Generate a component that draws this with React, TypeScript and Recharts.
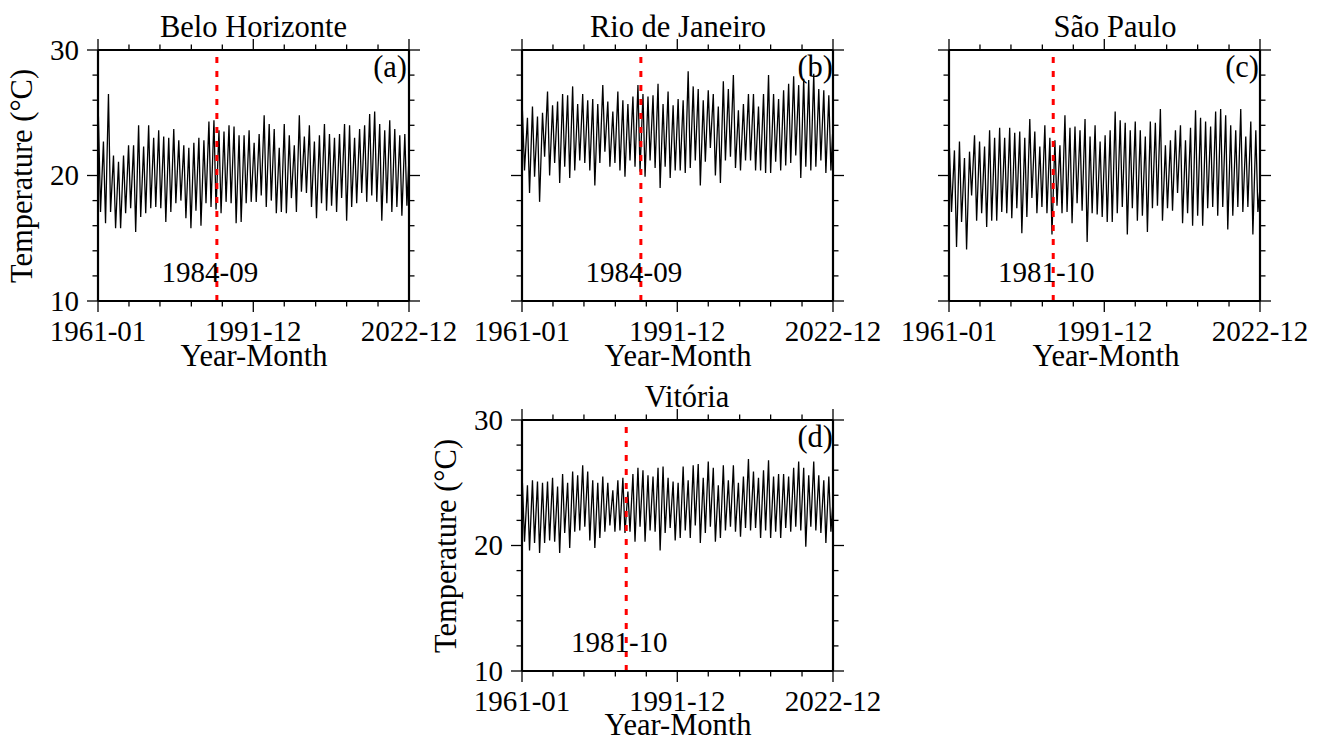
import { LineChart, Line, XAxis, YAxis, ReferenceLine } from 'recharts';

const FONT = '"Liberation Serif", "Times New Roman", serif';
const FS = 29;
const FS_TITLE = 30.5;

// month index: 0 = 1961-01 ... 743 = 2022-12
const xMajorTicks = [0, 371, 743];
const xMajorLabels = ['1961-01', '1991-12', '2022-12'];
const xMinorTicks = [74, 148, 223, 297, 445, 520, 594, 669];
const yMajorTicks = [10, 20, 30];
const yMinorTicks = [12, 14, 16, 18, 22, 24, 26, 28];

// one summer peak (Feb) and one winter low (Jul) per year, 1961..2022
const PEAK_MONTH = 1;
const LOW_MONTH = 6;

const bhStartEnd = [21.0, 21.5];
const bhPeaks = [
  24.7, 22.7, 26.5, 21.6, 21.1, 21.6, 22.4, 22.4, 24.0, 22.3, 24.0, 23.0, 23.6, 23.1, 23.0, 23.7,
  22.8, 22.4, 22.2, 22.6, 23.0, 22.8, 24.3, 24.4, 23.6, 23.5, 24.0, 23.9, 23.2, 23.2, 23.6, 22.6,
  23.3, 24.8, 24.1, 23.7, 22.2, 24.1, 23.2, 22.4, 24.8, 23.1, 24.0, 22.7, 23.2, 24.1, 23.3, 23.0,
  23.3, 24.1, 24.0, 23.0, 23.7, 24.0, 24.9, 25.1, 24.1, 23.6, 24.4, 23.7, 23.2, 23.3,
];
const bhLows = [
  17.1, 16.2, 17.1, 15.8, 15.8, 17.0, 17.4, 15.5, 16.7, 17.0, 17.4, 17.5, 17.4, 16.3, 17.1, 17.8,
  18.0, 16.6, 15.8, 17.2, 16.0, 17.8, 17.5, 17.3, 17.0, 17.9, 17.8, 16.2, 16.3, 17.8, 17.9,
  17.9, 18.4, 17.5, 18.0, 17.0, 17.1, 17.0, 18.2, 17.1, 18.7, 18.6, 17.5, 16.6, 17.8, 17.2, 17.6,
  17.1, 18.2, 16.4, 17.5, 17.8, 18.6, 17.9, 18.4, 17.9, 16.4, 17.8, 17.1, 17.5, 16.8, 17.6,
];

const rjStartEnd = [23.0, 24.0];
const rjPeaks = [
  25.2, 24.6, 25.5, 24.7, 25.0, 26.7, 25.6, 25.9, 26.5, 26.4, 27.1, 25.7, 26.5, 26.0, 26.1, 25.7,
  27.2, 25.9, 25.1, 26.7, 26.0, 25.7, 26.3, 27.2, 26.5, 26.3, 26.4, 27.3, 25.7, 26.7, 25.6, 26.1,
  26.0, 28.3, 27.1, 26.9, 26.0, 26.8, 26.5, 25.5, 27.5, 26.9, 28.0, 25.2, 25.7, 26.5, 26.5, 25.5,
  26.5, 28.0, 26.5, 26.1, 26.8, 27.3, 27.9, 27.2, 27.7, 27.6, 28.1, 26.9, 26.8, 26.4,
];
const rjLows = [
  20.4, 18.6, 19.9, 17.9, 21.5, 20.0, 21.0, 19.4, 20.7, 19.8, 20.4, 21.2, 21.0, 20.4, 19.2, 21.0,
  21.9, 20.7, 21.0, 20.4, 19.9, 21.2, 20.7, 20.3, 19.9, 21.2, 20.6, 19.0, 20.7, 19.8, 20.4,
  20.4, 20.2, 20.6, 21.2, 19.2, 21.1, 22.2, 20.0, 19.4, 21.2, 21.5, 20.6, 20.4, 21.2, 21.2, 20.4,
  20.4, 20.2, 20.2, 21.1, 20.4, 20.8, 21.0, 21.6, 19.8, 20.7, 20.4, 20.7, 21.2, 20.2, 20.4,
];

const spStartEnd = [21.0, 19.0];
const spPeaks = [
  22.2, 22.0, 22.7, 21.4, 21.9, 23.2, 22.7, 22.3, 23.6, 23.0, 23.8, 23.0, 23.8, 23.4, 23.5, 23.0,
  24.5, 23.5, 22.3, 24.0, 23.0, 22.8, 22.4, 24.8, 23.8, 23.9, 23.6, 24.5, 23.1, 24.0, 22.7, 23.2,
  23.6, 25.1, 24.4, 24.2, 23.6, 24.3, 23.6, 23.1, 24.3, 24.2, 25.3, 22.4, 22.8, 23.6, 24.0, 22.8,
  23.8, 25.2, 24.6, 24.3, 23.9, 25.1, 25.3, 24.8, 24.0, 23.6, 25.3, 23.1, 24.3, 23.6,
];
const spLows = [
  17.1, 14.3, 16.3, 14.1, 18.4, 16.4, 17.0, 15.9, 16.4, 16.4, 17.1, 17.0, 16.6, 17.4, 15.4, 16.7,
  18.2, 17.0, 17.5, 17.0, 15.3, 17.6, 17.0, 17.1, 16.2, 17.8, 17.2, 14.7, 17.0, 16.9, 16.7,
  16.3, 16.3, 17.0, 17.5, 15.3, 17.4, 16.4, 16.8, 15.5, 17.4, 17.6, 16.4, 17.4, 17.2, 18.6, 16.2,
  17.0, 16.0, 16.8, 16.0, 17.4, 17.5, 16.8, 17.5, 15.7, 16.8, 17.5, 17.1, 17.5, 15.3, 17.1,
];

const vtStartEnd = [22.5, 23.5];
const vtPeaks = [
  25.0, 24.8, 25.2, 25.1, 25.0, 25.1, 25.4, 24.7, 25.7, 25.0, 25.9, 25.6, 26.4, 25.9, 25.2, 25.0,
  25.5, 25.0, 24.4, 25.2, 25.4, 24.3, 25.7, 26.2, 26.0, 25.6, 25.5, 26.2, 26.3, 25.4, 25.1, 25.0,
  26.3, 25.2, 26.4, 26.5, 25.4, 26.7, 26.2, 24.8, 26.4, 25.2, 26.4, 25.0, 25.5, 26.9, 25.9, 25.4,
  26.0, 26.8, 25.5, 25.7, 25.7, 25.5, 26.2, 26.7, 26.2, 25.6, 26.7, 25.6, 25.2, 25.5,
];
const vtLows = [
  20.3, 19.6, 20.2, 19.4, 20.2, 20.4, 20.3, 19.4, 21.0, 19.8, 21.1, 21.2, 21.5, 20.4, 19.8, 20.6,
  21.1, 21.6, 21.1, 21.2, 21.0, 21.1, 20.3, 21.5, 20.3, 21.2, 21.1, 19.6, 21.0, 21.4, 20.4,
  20.6, 21.2, 20.6, 21.6, 20.2, 21.0, 21.5, 20.3, 20.6, 21.2, 21.5, 21.1, 20.7, 21.4, 21.2, 21.4,
  20.6, 21.2, 20.6, 21.1, 20.6, 21.4, 21.1, 21.5, 21.2, 19.9, 21.5, 21.2, 21.0, 20.2, 21.1,
];

function buildSeries(startEnd: number[], peaks: number[], lows: number[]) {
  const pts = [{ m: 0, t: startEnd[0] }];
  peaks.forEach((p, i) => {
    pts.push({ m: i * 12 + PEAK_MONTH, t: p });
    pts.push({ m: i * 12 + LOW_MONTH, t: lows[i] });
  });
  pts.push({ m: 743, t: startEnd[1] });
  return pts;
}

const PLOT_W = 311;
const PLOT_H = 251;
const CHART_W = 460;
const CHART_H = 369;

const panels = [
  { key: 'a', left: 0, top: 0, data: buildSeries(bhStartEnd, bhPeaks, bhLows), bp: 284, bpLabel: '1984-09', showY: true },
  { key: 'b', left: 424, top: 0, data: buildSeries(rjStartEnd, rjPeaks, rjLows), bp: 284, bpLabel: '1984-09', showY: false },
  { key: 'c', left: 851, top: 0, data: buildSeries(spStartEnd, spPeaks, spLows), bp: 249, bpLabel: '1981-10', showY: false },
  { key: 'd', left: 424, top: 370, data: buildSeries(vtStartEnd, vtPeaks, vtLows), bp: 249, bpLabel: '1981-10', showY: true },
];

function XTick({ x, y, payload }: any) {
  const idx = xMajorTicks.indexOf(payload.value);
  const len = idx >= 0 ? 11 : 5.5;
  return (
    <g>
      <line x1={x} x2={x} y1={y} y2={y + len} stroke="#000" strokeWidth={1.3} />
      <line x1={x} x2={x} y1={y - PLOT_H} y2={y - PLOT_H - len} stroke="#000" strokeWidth={1.3} />
      {idx >= 0 && (
        <text x={x} y={y + 40} textAnchor="middle" fontFamily={FONT} fontSize={FS} fill="#000">
          {xMajorLabels[idx]}
        </text>
      )}
    </g>
  );
}

function YTick({ x, y, payload, showLabel }: any) {
  const major = yMajorTicks.includes(payload.value);
  const len = major ? 11 : 5.5;
  return (
    <g>
      <line x1={x} x2={x - len} y1={y} y2={y} stroke="#000" strokeWidth={1.3} />
      <line x1={x + PLOT_W} x2={x + PLOT_W + len} y1={y} y2={y} stroke="#000" strokeWidth={1.3} />
      {major && showLabel && (
        <text x={x - 19} y={y} dy="0.34em" textAnchor="end" fontFamily={FONT} fontSize={FS} fill="#000">
          {payload.value}
        </text>
      )}
    </g>
  );
}

const titles = [
  { text: 'Belo Horizonte', x: 253.5, y: 37 },
  { text: 'Rio de Janeiro', x: 678, y: 37 },
  { text: 'São Paulo', x: 1115, y: 37 },
  { text: 'Vitória', x: 687, y: 407 },
];
const letters = [
  { text: '(a)', x: 407, y: 77 },
  { text: '(b)', x: 833, y: 77 },
  { text: '(c)', x: 1259, y: 77 },
  { text: '(d)', x: 833, y: 447 },
];
const xTitles = [
  { x: 254, y: 366 },
  { x: 678, y: 366 },
  { x: 1106, y: 366 },
  { x: 678, y: 735 },
];
const yTitles = [
  { x: 32, y: 176 },
  { x: 456, y: 546 },
];

function Panel({ p }: { p: (typeof panels)[number] }) {
  return (
    <div style={{ position: 'absolute', left: p.left, top: p.top }}>
      <LineChart width={CHART_W} height={CHART_H} data={p.data} margin={{ top: 50, right: 51, bottom: 18, left: 38 }}>
        <XAxis
          type="number"
          dataKey="m"
          domain={[0, 743]}
          ticks={[...xMajorTicks, ...xMinorTicks].sort((a, b) => a - b)}
          interval={0}
          tickLine={false}
          tickSize={0}
          tickMargin={0}
          height={50}
          axisLine={{ stroke: '#000', strokeWidth: 2.2 }}
          tick={<XTick />}
        />
        <YAxis
          type="number"
          domain={[10, 30]}
          allowDataOverflow
          ticks={[...yMajorTicks, ...yMinorTicks].sort((a, b) => a - b)}
          interval={0}
          tickLine={false}
          tickSize={0}
          tickMargin={0}
          width={60}
          axisLine={{ stroke: '#000', strokeWidth: 2.2 }}
          tick={(tp: any) => <YTick {...tp} showLabel={p.showY} />}
        />
        <ReferenceLine y={30} stroke="#000" strokeWidth={2.2} />
        <ReferenceLine x={743} stroke="#000" strokeWidth={2.2} />
        <Line
          type="linear"
          dataKey="t"
          stroke="#000"
          strokeWidth={1.3}
          dot={false}
          isAnimationActive={false}
        />
        <ReferenceLine
          x={p.bp}
          stroke="#ff0000"
          strokeWidth={3}
          strokeDasharray="6 8"
          label={{ value: p.bpLabel, position: 'insideBottom', offset: 19, fill: '#000', fontSize: FS, fontFamily: FONT, dx: -7 }}
        />
      </LineChart>
    </div>
  );
}

export default function App() {
  return (
    <div style={{ position: 'absolute', left: 0, top: 0, width: 1325, height: 739, background: '#fff', overflow: 'hidden' }}>
      {panels.map(p => (
        <Panel key={p.key} p={p} />
      ))}
      <svg width={1325} height={739} style={{ position: 'absolute', left: 0, top: 0, pointerEvents: 'none' }}>
        <g fontFamily={FONT} fontSize={FS_TITLE} fill="#000">
          {titles.map(t => (
            <text key={t.text} x={t.x} y={t.y} textAnchor="middle">{t.text}</text>
          ))}
          {letters.map(t => (
            <text key={t.text} x={t.x} y={t.y} textAnchor="end">{t.text}</text>
          ))}
          {xTitles.map((t, i) => (
            <text key={i} x={t.x} y={t.y} textAnchor="middle">Year-Month</text>
          ))}
          {yTitles.map((t, i) => (
            <text key={i} x={t.x} y={t.y} textAnchor="middle" transform={`rotate(-90 ${t.x} ${t.y})`}>
              Temperature (°C)
            </text>
          ))}
        </g>
      </svg>
    </div>
  );
}
